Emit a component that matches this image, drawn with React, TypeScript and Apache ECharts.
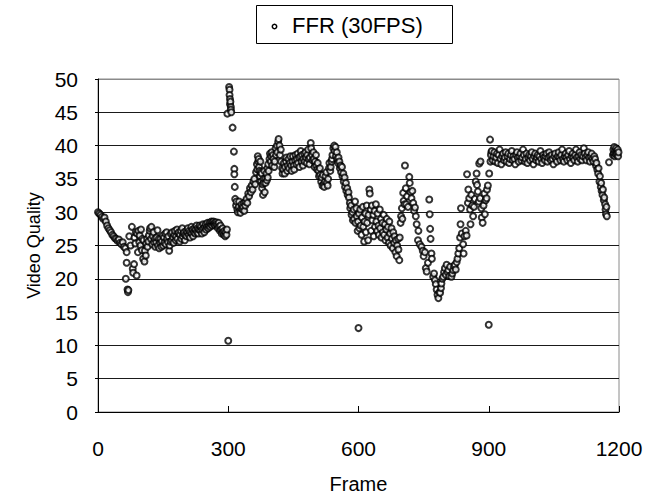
import React, { useEffect, useRef } from "react";
import * as echarts from "echarts";

const seriesName = "FFR (30FPS)";
const xTicks = [0, 300, 600, 900, 1200];
const yTicks = [0, 5, 10, 15, 20, 25, 30, 35, 40, 45, 50];

// [frame, video quality]
const startDecline: [number, number][] = [
  [0, 30.0], [3, 29.8], [6, 29.6], [9, 29.3], [12, 29.0], [15, 29.2], [18, 28.6], [21, 28.0],
  [24, 27.6], [27, 27.3], [30, 27.0], [33, 26.6], [36, 26.4], [39, 26.1], [42, 26.0], [45, 25.7],
  [48, 25.9], [51, 25.4], [54, 25.2], [57, 25.5], [60, 24.8], [63, 24.6],
  [64, 20.0], [66, 22.4], [68, 18.4], [69, 18.0], [70, 18.3], [66, 24.0], [72, 26.4],
  [75, 25.0], [78, 27.8], [80, 21.5], [81, 20.9], [83, 22.2], [84, 26.2], [86, 25.3], [87, 27.0],
  [89, 20.5], [90, 26.8], [92, 24.0], [93, 27.2], [95, 25.5], [96, 26.5], [98, 25.0], [99, 27.4],
  [101, 24.3], [102, 26.0], [104, 23.0], [105, 25.8], [107, 22.6], [108, 24.2], [110, 23.5],
];

const slowRise: [number, number][] = [
  [111, 25.3], [113, 26.0], [114, 24.8], [116, 25.6], [117, 26.5], [119, 27.2], [120, 27.6],
  [122, 26.0], [123, 27.8], [125, 25.2], [126, 26.4], [128, 27.0], [129, 25.5], [131, 26.0],
  [132, 24.8], [134, 25.5], [135, 26.2], [137, 27.3], [138, 25.0], [140, 26.0], [141, 24.6],
  [143, 25.4], [144, 26.0], [146, 24.8], [147, 25.6], [149, 26.5], [150, 25.0], [152, 26.2],
  [153, 25.4], [155, 26.8], [156, 25.2], [158, 27.0], [159, 26.0], [161, 25.5], [162, 26.4],
  [164, 24.2], [165, 25.0], [167, 25.6], [168, 26.8], [170, 25.8], [171, 27.0], [173, 26.2],
  [174, 25.4], [176, 26.6], [177, 27.2], [179, 25.8], [180, 26.4], [182, 27.4], [183, 26.0],
  [185, 26.8], [186, 27.0], [188, 25.6], [189, 26.6], [191, 27.2], [192, 26.0], [194, 27.6],
  [195, 26.4], [197, 26.8], [198, 27.0], [200, 25.8], [201, 26.6], [203, 27.2], [204, 26.4],
  [206, 27.0], [207, 27.6], [209, 26.6], [210, 27.2], [212, 26.2], [213, 27.0], [215, 27.8],
  [216, 26.8], [218, 27.4], [219, 26.4], [221, 27.0], [222, 27.6], [224, 26.8], [225, 27.4],
  [227, 28.0], [228, 27.0], [230, 27.6], [231, 26.8], [233, 27.4], [234, 28.0], [236, 27.2],
  [237, 27.8], [239, 26.8], [240, 27.4], [242, 28.2], [243, 27.6], [245, 27.0], [246, 27.8],
  [248, 28.2], [249, 27.4], [251, 27.8], [252, 28.4], [254, 27.6], [255, 28.0], [257, 28.4],
  [258, 27.8], [260, 28.2], [261, 28.6], [263, 28.0], [264, 28.5], [266, 28.6], [267, 28.2],
  [269, 28.4], [270, 28.0], [272, 28.5], [273, 28.2], [275, 28.0], [276, 27.6], [278, 28.4],
  [279, 27.8], [281, 27.2], [282, 28.0], [284, 27.4], [285, 26.8], [287, 27.6], [288, 27.0],
  [290, 26.6], [291, 27.2], [293, 26.4], [294, 27.0], [296, 26.6], [297, 27.4],
];

const spikeAndPeak: [number, number][] = [
  [300, 10.7], [298, 44.8], [302, 48.8], [303, 48.4], [303, 47.6], [304, 47.0], [304, 46.2],
  [305, 46.6], [306, 45.8], [306, 45.4], [307, 45.0], [310, 42.7], [313, 39.1], [314, 36.5],
  [314, 35.7], [315, 33.8], [316, 32.0], [318, 31.0], [319, 31.6], [321, 30.4], [322, 30.0],
  [324, 30.8], [325, 31.6], [327, 30.2], [328, 29.9], [330, 30.6], [331, 31.2], [333, 30.4],
  [334, 30.8], [336, 31.4], [337, 30.2], [339, 31.0], [340, 31.6], [342, 32.0], [344, 31.4],
  [346, 32.8], [348, 32.4], [350, 33.6], [352, 33.0], [354, 34.0], [356, 33.4], [358, 34.6],
  [360, 35.0], [362, 34.2], [364, 36.0], [366, 37.2], [367, 36.4], [368, 38.4], [369, 37.6],
  [370, 38.0], [371, 36.8], [372, 36.2], [373, 35.4], [374, 37.6], [375, 36.0], [376, 34.6],
  [377, 35.8], [378, 33.6], [379, 34.2], [380, 32.6], [381, 35.0], [382, 34.4], [383, 36.2],
  [384, 33.0], [385, 35.0], [386, 34.4], [388, 35.8], [389, 34.8], [390, 36.6], [391, 35.2],
  [392, 37.2], [393, 36.2], [395, 38.0], [396, 38.8], [398, 37.6], [399, 38.4], [400, 39.0],
  [401, 37.0], [403, 38.6], [404, 38.0], [406, 36.8], [407, 37.6], [409, 39.6], [410, 38.6],
  [412, 40.0], [413, 39.0], [415, 40.6], [416, 41.0], [418, 40.0], [419, 38.6], [421, 39.4],
  [422, 37.6], [424, 36.6], [425, 35.8], [427, 36.4], [428, 37.4], [430, 35.8], [431, 36.8],
  [433, 37.6], [434, 38.2], [436, 36.2], [437, 37.0], [439, 38.0], [440, 36.6], [442, 37.4],
  [443, 38.4], [445, 37.0], [446, 36.2], [448, 37.6], [449, 38.4], [451, 37.0], [452, 36.4],
  [454, 37.8], [455, 38.6], [457, 37.2], [458, 38.0], [460, 38.8], [461, 37.4], [463, 38.2],
  [464, 36.8], [466, 38.4], [467, 39.2], [469, 37.6], [470, 38.6], [472, 37.0], [473, 38.0],
  [475, 38.8], [476, 37.6], [478, 39.0], [479, 38.2], [481, 37.4], [482, 38.6], [484, 39.4],
  [485, 38.0], [487, 37.2], [488, 38.2], [490, 40.4], [491, 39.6], [493, 38.6], [494, 37.8],
  [496, 39.0], [497, 38.0], [499, 36.8], [500, 37.6], [502, 38.6], [503, 37.0], [505, 36.4],
  [506, 37.4], [508, 36.2], [509, 35.4], [511, 36.6], [512, 35.6], [514, 34.6], [515, 35.2],
  [517, 34.0], [518, 35.6], [520, 34.2], [521, 33.8], [523, 34.6], [524, 35.4], [526, 36.0],
  [527, 34.4], [529, 34.0], [530, 35.0], [532, 36.6], [533, 37.4], [535, 36.2], [536, 36.8],
  [538, 37.6], [539, 38.0], [540, 38.6], [542, 39.6], [544, 40.0], [545, 39.2], [547, 39.8],
  [548, 38.4], [550, 39.0], [551, 38.0], [553, 37.4], [554, 38.2], [556, 37.6], [557, 36.6],
  [559, 37.0], [560, 36.0], [562, 36.8], [563, 35.4], [565, 35.8], [566, 34.6], [568, 35.2],
  [569, 33.8], [571, 34.4], [572, 33.2], [574, 33.6], [575, 32.6], [577, 33.0], [578, 32.2],
  [580, 31.4], [581, 30.6], [583, 31.0], [584, 29.6],
];

const midDip: [number, number][] = [
  [586, 30.0], [587, 28.8], [589, 30.4], [590, 29.0], [592, 31.6], [593, 28.4], [595, 30.6],
  [596, 29.4], [598, 27.2], [599, 28.6], [600, 12.6], [601, 29.8], [602, 27.6], [604, 30.4],
  [605, 28.0], [607, 26.6], [608, 29.2], [610, 30.8], [611, 27.8], [613, 25.6], [614, 28.6],
  [616, 29.8], [617, 27.0], [619, 31.0], [620, 28.4], [622, 25.8], [623, 29.6], [625, 33.4],
  [626, 32.8], [628, 30.4], [629, 27.2], [631, 31.0], [632, 28.8], [634, 29.6], [635, 26.4],
  [637, 30.2], [638, 27.8], [640, 31.2], [641, 28.6], [643, 27.2], [644, 29.8], [646, 28.0],
  [647, 26.6], [649, 30.4], [650, 27.6], [652, 29.0], [653, 26.2], [655, 28.4], [656, 27.0],
  [658, 29.6], [659, 26.6], [661, 28.2], [662, 25.8], [664, 27.4], [665, 29.0], [667, 26.2],
  [668, 27.8], [670, 25.4], [671, 28.6], [673, 26.8], [674, 25.0], [676, 27.6], [677, 26.0],
  [679, 24.6], [680, 27.0], [682, 25.4], [683, 26.4], [685, 24.0], [686, 25.8], [688, 23.4],
  [689, 25.0], [691, 26.0], [692, 24.4], [694, 22.8], [695, 26.2], [697, 28.4], [698, 29.4],
  [700, 30.6], [701, 29.0], [703, 32.9], [704, 31.7], [706, 31.2], [707, 37.0], [709, 33.6],
  [710, 31.2], [712, 32.4], [714, 30.8], [717, 35.3], [718, 34.4], [720, 33.0], [722, 32.1],
  [724, 33.2], [726, 31.4], [728, 30.2], [730, 30.7], [732, 29.4], [734, 28.2], [737, 25.8],
  [738, 27.2], [741, 25.2], [745, 24.8], [748, 24.2], [750, 23.4], [753, 24.0], [755, 21.6],
  [757, 21.1], [760, 22.4], [763, 31.9], [764, 29.7], [765, 27.5], [766, 26.0], [768, 23.8],
  [769, 23.0], [772, 20.3], [774, 20.8], [776, 19.8], [778, 19.2], [780, 18.4], [782, 17.6],
  [784, 17.1], [786, 18.0], [788, 17.9], [790, 18.6], [791, 19.3], [793, 20.0], [795, 20.3],
  [797, 21.0], [799, 21.6], [801, 20.6], [803, 22.1], [805, 21.0], [807, 21.3], [809, 20.4],
  [811, 21.8], [814, 20.3], [816, 20.8], [818, 21.3], [820, 21.9], [822, 22.1], [824, 21.4],
  [826, 22.5], [828, 23.0], [830, 23.8], [832, 24.6], [834, 26.2], [835, 28.2], [836, 30.6],
  [838, 26.8], [841, 25.2], [842, 23.8], [844, 26.4], [847, 27.2], [849, 26.5], [850, 35.7],
  [852, 31.4], [853, 33.4], [855, 32.1], [857, 30.4], [858, 28.2], [860, 32.6], [862, 31.0],
  [864, 29.4], [866, 30.8], [868, 32.0], [870, 34.6], [872, 35.8], [873, 34.1], [875, 33.1],
  [877, 31.6], [878, 37.3], [880, 32.1], [881, 37.6], [883, 30.6], [884, 29.2], [886, 28.4],
  [888, 31.0], [890, 32.8], [891, 29.7], [893, 31.8], [895, 32.1], [896, 33.4], [898, 34.0],
  [900, 13.1], [901, 35.8], [903, 40.9], [904, 37.6], [906, 39.0],
];

const plateauEnd: [number, number][] = [
  [905, 38.6], [907, 39.2], [909, 37.8], [911, 38.4], [913, 39.0], [915, 37.6], [917, 38.2],
  [919, 38.8], [921, 37.4], [923, 38.6], [925, 39.4], [927, 38.0], [929, 37.2], [931, 38.4],
  [933, 38.8], [935, 37.8], [937, 38.2], [939, 39.0], [941, 37.6], [943, 38.4], [945, 38.8],
  [947, 37.4], [949, 38.0], [951, 38.6], [953, 39.2], [955, 37.8], [957, 38.4], [959, 38.0],
  [961, 37.2], [963, 38.6], [965, 39.0], [967, 38.2], [969, 37.6], [971, 38.4], [973, 38.8],
  [975, 37.8], [977, 38.2], [979, 39.4], [981, 38.6], [983, 37.6], [985, 38.0], [987, 38.8],
  [989, 37.4], [991, 38.2], [993, 38.6], [995, 37.8], [997, 38.4], [999, 39.0], [1001, 38.0],
  [1003, 37.2], [1005, 38.4], [1007, 38.8], [1009, 37.8], [1011, 38.2], [1013, 38.6],
  [1015, 37.6], [1017, 38.4], [1019, 39.2], [1021, 38.0], [1023, 37.4], [1025, 38.6],
  [1027, 38.2], [1029, 37.8], [1031, 38.4], [1033, 38.8], [1035, 37.6], [1037, 38.2],
  [1039, 39.0], [1041, 38.4], [1043, 37.8], [1045, 38.6], [1047, 38.0], [1049, 37.2],
  [1051, 38.4], [1053, 38.8], [1055, 38.0], [1057, 37.6], [1059, 38.4], [1061, 39.0],
  [1063, 38.2], [1065, 37.8], [1067, 38.6], [1069, 39.4], [1071, 38.0], [1073, 37.6],
  [1075, 38.4], [1077, 38.8], [1079, 38.2], [1081, 37.8], [1083, 38.6], [1085, 39.2],
  [1087, 38.0], [1089, 37.4], [1091, 38.4], [1093, 38.8], [1095, 38.2], [1097, 37.8],
  [1099, 38.6], [1101, 39.4], [1103, 38.2], [1105, 37.6], [1107, 38.4], [1109, 39.0],
  [1111, 38.0], [1113, 38.6], [1115, 37.8], [1117, 38.4], [1119, 39.6], [1121, 38.8],
  [1123, 38.2], [1125, 37.8], [1127, 38.6], [1129, 39.0], [1131, 38.2], [1133, 37.6],
  [1135, 38.4], [1137, 38.8], [1139, 38.0], [1141, 37.6], [1143, 38.4],
  [1145, 38.0], [1147, 37.0], [1148, 37.4], [1150, 36.4], [1152, 35.8], [1153, 36.6],
  [1155, 34.6], [1156, 35.4], [1158, 33.8], [1159, 34.4], [1160, 33.2], [1162, 32.6],
  [1163, 33.4], [1165, 31.8], [1166, 32.2], [1168, 31.2], [1169, 30.4], [1170, 29.7],
  [1171, 30.8], [1172, 29.4], [1177, 37.5], [1186, 38.6], [1187, 39.4], [1188, 38.8],
  [1189, 39.8], [1190, 38.4], [1191, 39.2], [1192, 38.8], [1193, 39.6], [1194, 38.6],
  [1195, 39.2], [1196, 38.8], [1197, 39.4], [1198, 38.4], [1199, 39.0],
];

const FONT = "'Liberation Sans', Arial, sans-serif";

export default function App() {
  const ref = useRef<HTMLDivElement>(null);
  useEffect(() => {
    document.body.style.margin = "0";
    const chart = echarts.init(ref.current!, undefined, { renderer: "svg" });
    const data = [...startDecline, ...slowRise, ...spikeAndPeak, ...midDip, ...plateauEnd];
    const splitColors = yTicks.map((v, i) => (i === yTicks.length - 1 ? "#8a8a8a" : "#1a1a1a"));
    chart.setOption({
      animation: false,
      backgroundColor: "#fff",
      textStyle: { fontFamily: FONT, color: "#000" },
      graphic: [
        {
          type: "rect",
          shape: { x: 256.5, y: 5.5, width: 196, height: 38 },
          style: { fill: "#fff", stroke: "#000", lineWidth: 1 },
        },
        {
          type: "circle",
          shape: { cx: 274.5, cy: 26.5, r: 2.2 },
          style: { fill: "#fff", stroke: "#000", lineWidth: 1.5 },
        },
        {
          type: "text",
          x: 292,
          y: 25.5,
          style: {
            text: seriesName,
            fill: "#000",
            fontSize: 22,
            fontFamily: FONT,
            verticalAlign: "middle",
            align: "left",
          },
        },
      ],
      grid: {
        left: 98,
        top: 79,
        width: 521,
        height: 339,
        show: true,
        borderColor: "#8a8a8a",
        borderWidth: 1,
      },
      xAxis: {
        type: "value",
        min: xTicks[0],
        max: xTicks[xTicks.length - 1],
        interval: 300,
        name: "Frame",
        nameLocation: "middle",
        nameGap: 62,
        nameTextStyle: { fontSize: 20, color: "#000", fontFamily: FONT },
        axisLine: { show: true, lineStyle: { color: "#000", width: 1 } },
        axisTick: { show: true, inside: true, length: 6, lineStyle: { color: "#000" } },
        axisLabel: {
          fontSize: 21,
          color: "#000",
          margin: 26,
          fontFamily: FONT,
          formatter: (v: number) => String(v),
        },
        splitLine: { show: false },
      },
      yAxis: {
        type: "value",
        min: yTicks[0],
        max: yTicks[yTicks.length - 1],
        interval: 5,
        name: "Video Quality",
        nameLocation: "middle",
        nameGap: 55,
        nameTextStyle: { fontSize: 18, color: "#000", fontFamily: FONT },
        axisLine: { show: true, lineStyle: { color: "#000", width: 1 } },
        axisTick: { show: true, inside: false, length: 3, lineStyle: { color: "#000" } },
        axisLabel: {
          fontSize: 21,
          color: "#000",
          margin: 20,
          fontFamily: FONT,
          formatter: (v: number) => String(v),
        },
        splitLine: { show: true, lineStyle: { color: splitColors, width: 1 } },
      },
      series: [
        {
          name: seriesName,
          type: "scatter",
          symbol: "emptyCircle",
          symbolSize: 6,
          itemStyle: { color: "#000", borderColor: "#000", borderWidth: 2 },
          data,
        },
      ],
    });
    return () => chart.dispose();
  }, []);
  return <div ref={ref} style={{ width: 648, height: 499 }} />;
}
